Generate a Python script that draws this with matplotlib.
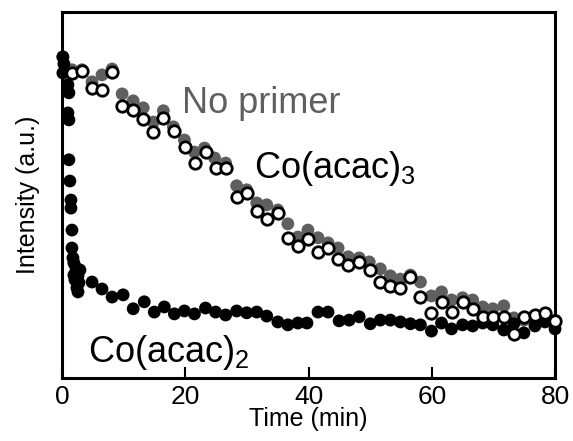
import matplotlib
matplotlib.use("Agg")
import matplotlib.pyplot as plt

plt.rcParams['font.family'] = ['Liberation Sans', 'DejaVu Sans']
plt.rcParams['mathtext.fontset'] = 'custom'
plt.rcParams['mathtext.rm'] = 'Liberation Sans'
plt.rcParams['mathtext.it'] = 'Liberation Sans'

# Co(acac)2 (filled black)
t_co2 = [0.16, 0.33, 0.16, 0.98, 1.14, 0.98, 1.14, 1.14, 1.30, 1.47, 1.47, 1.63, 1.63, 1.79,
         1.95, 2.28, 2.93, 1.95, 2.61, 2.12, 2.77, 2.44, 2.61,
         4.89, 6.51, 8.14, 9.93, 11.56, 13.36, 14.98, 16.61, 18.24, 19.87, 21.50, 23.29,
         24.92, 26.55, 28.34, 29.97, 31.60, 33.22, 35.02, 36.64, 38.27, 39.74, 41.53, 43.16,
         44.95, 46.58, 48.21, 50.00, 51.63, 53.26, 54.89, 56.51, 58.14, 59.93, 61.56, 63.19,
         64.98, 66.61, 68.24, 69.87, 71.66, 73.29, 74.92, 76.71, 78.34, 79.97]
y_co2 = [0.877, 0.858, 0.833, 0.801, 0.779, 0.724, 0.705, 0.596, 0.538, 0.486, 0.464, 0.404, 0.355,
         0.328, 0.314, 0.301, 0.295, 0.281, 0.279, 0.268, 0.260, 0.246, 0.235,
         0.262, 0.243, 0.221, 0.227, 0.189, 0.208, 0.180, 0.194, 0.175, 0.183, 0.175, 0.191,
         0.180, 0.172, 0.183, 0.178, 0.180, 0.169, 0.153, 0.145, 0.150, 0.150, 0.180, 0.180,
         0.156, 0.158, 0.167, 0.148, 0.158, 0.158, 0.153, 0.148, 0.145, 0.128, 0.150, 0.134,
         0.145, 0.142, 0.150, 0.145, 0.131, 0.148, 0.123, 0.142, 0.153, 0.134]

# Co(acac)3 (open circles)
t_co3 = [1.63, 3.26, 4.89, 6.51, 8.14, 9.77, 11.56, 13.19, 14.82, 16.45, 18.24, 20.03, 21.66,
         23.29, 24.92, 26.55, 28.34, 29.97, 31.60, 33.22, 35.02, 36.64, 38.27, 39.90, 41.53,
         43.16, 44.79, 46.42, 48.21, 50.00, 51.63, 53.26, 54.89, 56.51, 58.14, 59.93, 61.56,
         63.19, 64.98, 66.61, 68.24, 69.87, 71.66, 73.29, 74.92, 76.71, 78.34, 79.97]
y_co3 = [0.833, 0.839, 0.792, 0.787, 0.836, 0.743, 0.732, 0.708, 0.672, 0.710, 0.675, 0.631,
         0.587, 0.617, 0.574, 0.574, 0.495, 0.505, 0.456, 0.434, 0.451, 0.383, 0.361, 0.380,
         0.344, 0.355, 0.325, 0.309, 0.317, 0.295, 0.262, 0.251, 0.246, 0.276, 0.221, 0.178,
         0.208, 0.180, 0.208, 0.189, 0.167, 0.167, 0.167, 0.120, 0.167, 0.172, 0.178, 0.156]

# No primer (filled gray)
t_np = [0.16, 1.63, 3.26, 4.89, 6.51, 8.14, 9.77, 11.56, 13.19, 14.82, 16.45, 18.08, 19.87,
        21.50, 23.13, 24.76, 26.55, 28.34, 29.97, 31.60, 33.22, 35.02, 36.64, 38.27, 39.90,
        41.53, 43.16, 44.79, 46.42, 48.21, 49.84, 51.63, 53.26, 54.89, 56.51, 58.14, 59.93,
        61.56, 63.19, 64.98, 66.61, 68.24, 69.87, 71.66, 73.29, 74.92, 76.71, 78.34, 79.97]
y_np = [0.877, 0.842, 0.842, 0.809, 0.828, 0.844, 0.776, 0.757, 0.738, 0.699, 0.730, 0.686,
        0.650, 0.617, 0.628, 0.601, 0.587, 0.525, 0.514, 0.478, 0.473, 0.459, 0.421, 0.385,
        0.404, 0.383, 0.369, 0.355, 0.331, 0.328, 0.317, 0.298, 0.279, 0.270, 0.281, 0.262,
        0.224, 0.235, 0.213, 0.219, 0.213, 0.194, 0.189, 0.197, 0.164, 0.158, 0.164, 0.172,
        0.158]

xticks = [0, 20, 40, 60, 80]

fig = plt.figure(figsize=(5.73, 4.41), dpi=100)
ax = fig.add_axes([0.108, 0.143, 0.861, 0.830])

gray = '#5f5f5f'
ax.scatter(t_np, y_np, s=85, color=gray, edgecolors='none', zorder=2, clip_on=False)
ax.scatter(t_co2, y_co2, s=85, color='black', edgecolors='none', zorder=3, clip_on=False)
ax.scatter(t_co3, y_co3, s=68, facecolors='white', edgecolors='black', linewidths=2.0,
           zorder=4, clip_on=False)

ax.set_xlim(0, 80)
ax.set_ylim(0, 1)
ax.set_xticks(xticks)
ax.set_xticklabels([str(v) for v in xticks], fontsize=19)
ax.set_yticks([])
ax.tick_params(axis='x', direction='in', length=8, width=1.5, pad=5)
for sp in ax.spines.values():
    sp.set_linewidth(2.2)

ax.set_xlabel('Time (min)', fontsize=18, labelpad=-1)
ax.set_ylabel('Intensity (a.u.)', fontsize=18, labelpad=16)

ax.text(19.5, 0.724, 'No primer', fontsize=26, color=gray)
ax.text(31.1, 0.546, 'Co(acac)$_3$', fontsize=26, color='black')
ax.text(4.2, 0.044, 'Co(acac)$_2$', fontsize=26, color='black')

fig.savefig('out.png', dpi=100)
